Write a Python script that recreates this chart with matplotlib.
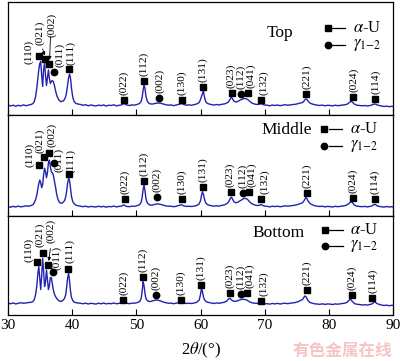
import matplotlib
matplotlib.use('Agg')
import matplotlib.pyplot as plt

plt.rcParams['font.family'] = ['Liberation Serif', 'DejaVu Serif']
plt.rcParams['mathtext.fontset'] = 'stix'

# 2theta grid (deg)
two_theta = [30.0, 30.4, 30.8, 31.2, 31.6, 32.0, 32.4, 32.8, 33.2, 33.6,
             33.9, 34.1, 34.3, 34.5, 34.65, 34.8, 34.95, 35.1, 35.25, 35.4, 35.55, 35.7, 35.85, 36.0, 36.15,
             36.3, 36.45, 36.6, 36.75, 36.9, 37.05, 37.2, 37.4, 37.6, 37.8, 38.0, 38.2, 38.4, 38.6,
             38.8, 39.0, 39.15, 39.3, 39.45, 39.6, 39.75, 39.9, 40.1, 40.3, 40.6, 40.9,
             41.3, 41.7, 42.1, 42.5, 42.9, 43.3, 43.7, 44.1, 44.5, 44.9, 45.3, 45.7, 46.1, 46.5, 46.9, 47.3, 47.7,
             48.0, 48.2, 48.5, 48.9, 49.3, 49.7, 50.1, 50.5,
             50.75, 50.9, 51.05, 51.2, 51.35, 51.5, 51.7, 51.9, 52.2,
             52.6, 53.0, 53.4, 53.8, 54.2, 54.6, 55.0, 55.4, 55.8, 56.2, 56.6,
             56.9, 57.1, 57.4, 57.8, 58.2, 58.6, 59.0, 59.4, 59.8,
             60.0, 60.15, 60.3, 60.45, 60.6, 60.8, 61.0, 61.3,
             61.7, 62.1, 62.5, 62.9, 63.3, 63.7, 64.1,
             64.35, 64.55, 64.7, 64.85, 65.0, 65.2, 65.45, 65.7, 65.95, 66.2, 66.45, 66.7, 66.95, 67.2, 67.45,
             67.7, 68.0, 68.4,
             68.8, 69.2, 69.45, 69.7, 70.0,
             70.4, 70.8, 71.2, 71.6, 72.0, 72.4, 72.8, 73.2, 73.6, 74.0, 74.4, 74.8, 75.2, 75.6,
             75.9, 76.1, 76.25, 76.4, 76.55, 76.7, 76.9, 77.1, 77.4, 77.8,
             78.2, 78.6, 79.0, 79.4, 79.8, 80.2, 80.6, 81.0, 81.4, 81.8, 82.2, 82.6, 82.9,
             83.1, 83.3, 83.45, 83.6, 83.75, 83.9, 84.1, 84.4, 84.8,
             85.2, 85.6, 86.0, 86.4, 86.7,
             86.9, 87.1, 87.3, 87.5, 87.8,
             88.2, 88.6, 89.0, 89.4, 89.8, 90.0]

# intensities (a.u., above background)
top_counts = [0.5, -0.5, 0.3, -0.8, 0.2, -0.4, 0.6, -0.2, 0.4, 1.0,
              2, 4, 9, 18, 27, 36, 42, 44, 30, 19, 36, 42.5, 30, 20, 28,
              35.5, 27, 22, 24, 25, 24, 21, 15, 10, 7, 5, 4, 4, 4.5,
              6, 9, 14, 21, 28, 31.5, 27, 17, 8, 4, 2, 1.5,
              1, 0.2, 0.8, -0.3, 0.5, 0, -0.5, 0.4, -0.2, 0.6, -0.6, 0.3, 0, 0.7, -0.4, 0.2, 0.5,
              2.0, 1.5, 0.5, 0, 0.6, 0.3, 1.0, 2.0,
              4, 8, 15, 20.5, 17, 9, 4.5, 2.5, 1.5,
              1.5, 2.2, 2.5, 2.2, 1.5, 0.8, 0.3, 0.6, -0.2, 0.5, 1.2,
              1.8, 2.0, 1.0, 0.3, 0.6, 0.2, 0.8, 1.5, 3,
              6, 9, 12, 14.8, 9, 4, 2.5, 1.5,
              1.0, 0.4, 1.0, 0.5, 1.2, 1.5, 2.5,
              3.5, 5.5, 7.5, 8, 6.5, 4.5, 3.5, 3.8, 4.5, 5.5, 6.2, 6.8, 7, 6.5, 5.5,
              4, 2.5, 1.5,
              1, 1.3, 2.0, 1.0, 0.5,
              0.3, -0.3, 0.4, 0, 0.5, -0.2, 0.3, 0.8, 0.2, 0.6, 1.0, 1.2, 1.8, 2.5,
              3, 4.2, 5.5, 6.5, 6.3, 5, 3.5, 2.3, 1.5, 0.8,
              0.3, 0, 0.4, -0.3, 0.2, 0, -0.4, 0.3, -0.2, 0.2, 0.5, 0.8, 1.5,
              2.5, 3.5, 4, 3.8, 2.8, 1.8, 1, 0.3, 0,
              -0.3, 0, -0.5, 0, 0.5,
              1, 1.5, 1.3, 0.7, 0,
              -0.5, -1.0, -0.6, -1.2, -0.8, -1.0]

mid_counts = [0.3, -0.5, 0.4, -0.3, 0.6, -0.2, 0.3, 0.8, 0.5, 1.2,
              2, 4, 7, 12, 18, 23, 26.7, 24, 19, 22, 32, 38.4, 35, 29, 34,
              44, 46.5, 40, 35, 34, 32, 27, 20, 12, 7, 4.5, 3.5, 3.5, 4.5,
              6, 10, 16, 24, 28.4, 26, 18, 10, 5, 3, 1.5, 1,
              0.5, 0, 0.6, -0.4, 0.3, 0, -0.3, 0.5, -0.2, 0.4, -0.5, 0.2, 0, 0.6, -0.2, 0.3, 0.6,
              1.8, 1.2, 0.3, 0, 0.5, 0.4, 1.0, 2.0,
              4.5, 9, 17, 21.7, 16, 8, 4, 2.5, 1.5,
              1.8, 2.5, 2.8, 2.3, 1.5, 0.8, 0.5, 0.5, 0, 0.4, 1.2,
              1.8, 1.8, 0.8, 0.3, 0.4, 0.2, 0.6, 1.2, 2.8,
              6, 11, 15, 12.5, 8, 4, 2.5, 1.5,
              1.0, 0.5, 1.0, 0.6, 1.3, 1.8, 3,
              4.5, 7, 9, 9.4, 7.5, 5, 4, 4.2, 5, 6, 7, 8, 8.4, 7.8, 6.5,
              4.5, 3, 1.8,
              1.2, 1.5, 2.2, 1.2, 0.6,
              0.4, -0.2, 0.5, 0.1, 0.6, -0.1, 0.4, 0.9, 0.5, 0.8, 1.2, 1.6, 2.3, 3.2,
              4, 5.5, 7.5, 9, 8.5, 6.5, 4.5, 3, 2, 1,
              0.5, 0.2, 0.5, -0.2, 0.3, 0.1, -0.3, 0.4, 0, 0.3, 0.7, 1.2, 2,
              3, 4.3, 5, 4.5, 3.5, 2.2, 1.2, 0.5, 0.2,
              0, 0.3, -0.2, 0.3, 0.8,
              1.5, 2.4, 2, 1, 0.3,
              0, -0.4, 0.2, -0.3, 0, -0.2]

bot_counts = [0.5, -0.3, 0.6, -0.4, 0.2, 0.8, 0.3, 0.5, 1.0, 1.2,
              2, 4, 9, 18, 30, 36.8, 25, 14, 28, 45.2, 32, 17, 22, 33.5, 24,
              14, 18, 26, 26, 20, 14, 10, 7, 5, 3.5, 2.5, 2, 2.5, 3.5,
              5, 9, 17, 26, 30, 22, 12, 6, 3, 1.5, 0.8, 0.5,
              0.3, -0.3, 0.4, -0.5, 0.2, -0.1, -0.6, 0.3, -0.3, 0.5, -0.4, 0.1, -0.2, 0.5, -0.3, 0.2, 0.6,
              1.8, 1.2, 0.3, -0.2, 0.4, 0.3, 0.8, 1.8,
              5, 12, 21.8, 18, 10, 5, 3, 2.2, 2,
              2.8, 3.5, 3.3, 2.5, 1.5, 0.8, 0.3, 0.4, -0.2, 0.3, 1.0,
              1.8, 1.5, 0.6, 0, 0.3, 0, 0.5, 1.2, 3.5,
              9, 15.2, 12, 7, 4, 2.5, 1.5, 1,
              0.5, 0, 0.6, 0.2, 0.8, 1.2, 2.5,
              4.5, 5.2, 4.5, 3.5, 2.8, 2.3, 2.2, 2.5, 3.2, 3.8, 4.2, 4.2, 4, 3.5, 2.5,
              1.5, 0.8, 0.3,
              0.2, 0.5, 1.2, 0.3, -0.3,
              -0.2, -0.6, 0, -0.4, 0.2, -0.5, 0, 0.3, -0.2, 0.4, 0.6, 1, 1.8, 3,
              4, 6, 7.5, 7, 5.5, 3.5, 2, 1, 0.3, -0.3,
              -0.5, -0.8, -0.3, -0.9, -0.4, -0.6, -1, -0.4, -0.7, -0.3, 0, 0.5, 1.5,
              2.8, 4.2, 3.8, 2.5, 1.5, 0.5, -0.3, -0.8, -1,
              -1.5, -1.2, -1.6, -1.0, -0.5,
              0.5, 1.5, 1.0, 0, -0.8,
              -1.5, -2.0, -1.6, -2.2, -1.8, -2.0]

# reflections
hkl = ['(110)', '(021)', '(002)', '(011)', '(111)', '(022)', '(112)', '(002)', '(130)',
       '(131)', '(023)', '(112)', '(041)', '(132)', '(221)', '(024)', '(114)']
phase = ['a', 'a', 'a', 'g', 'a', 'a', 'a', 'g', 'a', 'a', 'a', 'g', 'a', 'a', 'a', 'a', 'a']

top_peak_x = [34.83, 35.76, 36.43, 37.2, 39.55, 48.1, 51.2, 53.57, 57.1, 60.4, 64.85, 66.3, 67.43,
              69.4, 76.5, 83.8, 87.27]
top_peak_y = [49.5, 46.2, 41.5, 33.8, 36.2, 5.5, 24.5, 7.2, 5.5, 18.8, 12.8, 11.5, 12.2, 5.5, 11.2, 8.8, 6.2]
mid_peak_x = [34.83, 35.66, 36.43, 37.2, 39.5, 48.22, 51.18, 53.16, 57.1, 60.42, 64.7, 66.56, 67.6,
              69.5, 76.62, 83.7, 87.17]
mid_peak_y = [41.7, 50, 54, 43.4, 32.4, 7.4, 26, 10, 7.4, 20, 15, 13.4, 15, 7.7, 14, 8.4, 7.4]
bot_peak_x = [34.57, 35.5, 36.28, 36.96, 39.3, 47.96, 50.97, 53.05, 56.9, 60.06, 64.58, 66.24, 67.28,
              69.36, 76.53, 83.64, 86.76]
bot_peak_y = [41.2, 50.2, 38.5, 31.2, 34.2, 3.5, 26.8, 8.5, 3.5, 18.5, 10.8, 9.5, 10.2, 2.5, 13.5, 8.5, 5.2]

panels = ['Top', 'Middle', 'Bottom']
counts = [top_counts, mid_counts, bot_counts]
peak_x = [top_peak_x, mid_peak_x, bot_peak_x]
peak_y = [top_peak_y, mid_peak_y, bot_peak_y]

# label placement for the crowded 34-40 deg group (x, bottom of text)
crowd_lx = [[33.3, 34.9, 36.8, 38.0, 39.8], [33.4, 34.9, 36.8, 37.85, 39.8], [33.17, 34.9, 36.7, 37.6, 39.65]]
crowd_ly = [[41.5, 60.5, 68.5, 38.5, 40.5], [40, 53.7, 60, 35, 33.7], [41.5, 56.5, 60.5, 33.5, 40.5]]
# small shifts of the 64-70 deg labels
shift_lx = {'(023)': -0.1, '(112)': -0.05, '(041)': 0.35, '(132)': 0.45}
arrows = [[((35.4, 56.5), (35.72, 50.0)), ((36.62, 68.5), (36.48, 45.5))],
          [],
          [((36.6, 55.0), (36.35, 42.5))]]

ylims = [(-9.5, 103.5), (-9.3, 91.7), (-11.5, 87.5)]
title_pos = [(0.706, 0.726), (0.723, 0.851), (0.703, 0.831)]
leg_pos = [(0.830, 0.767, 0.619), (0.822, 0.858, 0.693), (0.823, 0.859, 0.697)]

line_col = '#2222b0'

fig = plt.figure(figsize=(4, 3.61), dpi=100)
gs = fig.add_gridspec(3, 1, height_ratios=[113, 101, 99], hspace=0,
                      left=0.02, right=0.9825, top=0.9945, bottom=0.1274)

for i in range(3):
    ax = fig.add_subplot(gs[i])
    ax.plot(two_theta, counts[i], color=line_col, lw=1.0)
    ax.set_xlim(30, 90)
    ax.set_ylim(*ylims[i])
    ax.set_yticks([])
    ax.set_xticks(range(30, 91, 10))
    ax.tick_params(axis='x', direction='in', length=4, width=0.8, labelsize=11, pad=3)
    if i < 2:
        ax.tick_params(labelbottom=False)
    for s in ax.spines.values():
        s.set_linewidth(0.9)

    for j in range(len(hkl)):
        mk = 's' if phase[j] == 'a' else 'o'
        ax.plot(peak_x[i][j], peak_y[i][j], mk, color='black', ms=4.6, mec='black')
        if j < 5:
            lx, ly = crowd_lx[i][j], crowd_ly[i][j]
        else:
            lx, ly = peak_x[i][j], peak_y[i][j] + 5.0
            if j >= 10:
                lx += shift_lx.get(hkl[j], 0)
        ax.text(lx, ly, hkl[j], rotation=90, ha='center', va='bottom', fontsize=8.2)

    for (p0, p1) in arrows[i]:
        ax.annotate('', xy=p1, xytext=p0,
                    arrowprops=dict(arrowstyle='-|>', lw=0.6, color='black',
                                    mutation_scale=5, shrinkA=0, shrinkB=0))

    tx, ty = title_pos[i]
    ax.text(tx, ty, panels[i], transform=ax.transAxes, ha='center', va='center', fontsize=12.5)
    lx0, ya, yg = leg_pos[i]
    ax.plot([lx0], [ya], 's', color='black', ms=4.6, transform=ax.transAxes, clip_on=False)
    ax.plot([lx0], [yg], 'o', color='black', ms=4.6, transform=ax.transAxes, clip_on=False)
    ax.plot([lx0 + 0.011, lx0 + 0.046], [ya, ya], color='black', lw=0.9, transform=ax.transAxes)
    ax.plot([lx0 + 0.011, lx0 + 0.046], [yg, yg], color='black', lw=0.9, transform=ax.transAxes)
    ax.text(lx0 + 0.066, ya, r'$\alpha$-U', transform=ax.transAxes, ha='left', va='center', fontsize=12)
    ax.text(lx0 + 0.066, yg, r'$\gamma_{\mathrm{1{-}2}}$', transform=ax.transAxes, ha='left',
            va='center', fontsize=12)

    if i == 2:
        ax.set_xlabel(r'2$\theta$/(°)', fontsize=12, labelpad=6)

fig.text(0.855, 0.028, '有色金属在线', color='#f5c4c4', fontsize=12, fontweight='bold',
         ha='center', va='center', family=['Noto Sans CJK SC', 'DejaVu Sans'])

fig.savefig('out.png', dpi=100)
